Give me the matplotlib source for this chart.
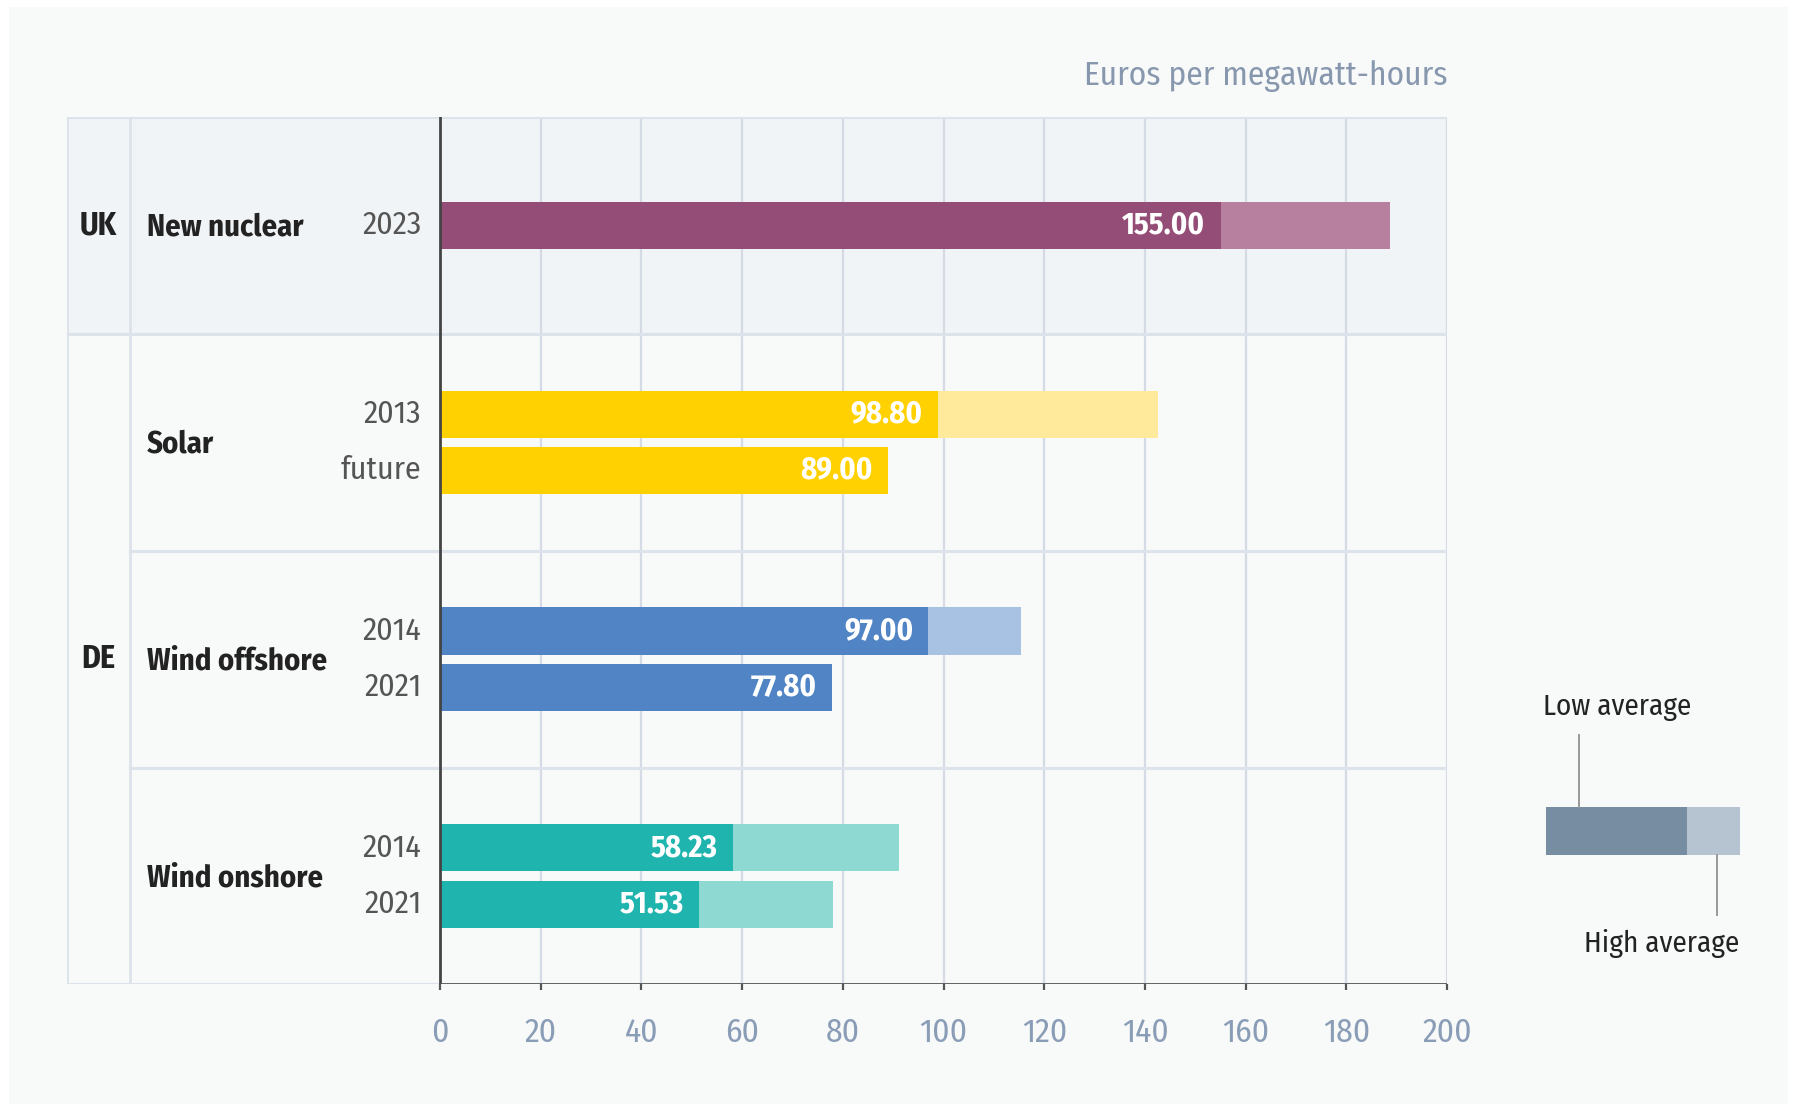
import matplotlib
matplotlib.use("Agg")
import matplotlib.pyplot as plt
from matplotlib import font_manager as fm
from matplotlib.patches import Rectangle

# ---------------- data ----------------
countries = ["UK", "DE"]
country_span = [(0, 1), (1, 4)]          # technology rows belonging to each country
technologies = ["New nuclear", "Solar", "Wind offshore", "Wind onshore"]
years = [["2023"], ["2013", "future"], ["2014", "2021"], ["2014", "2021"]]
low_avg = [[155.00], [98.80, 89.00], [97.00, 77.80], [58.23, 51.53]]
high_avg = [[188.6], [142.5, None], [115.4, None], [91.2, 78.0]]
dark_colors = ["#944d76", "#ffd100", "#5084c5", "#20b4ae"]
light_colors = ["#b8809f", "#feea9a", "#a8c2e3", "#8fd9d3"]
xticks = list(range(0, 201, 20))
unit_label = "Euros per megawatt-hours"
legend_labels = ["Low average", "High average"]
legend_colors = ["#778da2", "#b6c3d0"]

# ---------------- fonts ----------------
avail = {f.name for f in fm.fontManager.ttflist}
FONT = "DejaVu Sans"
for cand in ["Fira Sans Condensed", "PT Sans Narrow", "Barlow Semi Condensed",
             "Asap Condensed", "Archivo Narrow"]:
    if cand in avail:
        FONT = cand
        break
plt.rcParams["font.family"] = [FONT, "DejaVu Sans"]

W, H = 1801, 1107
fig = plt.figure(figsize=(W / 100, H / 100), dpi=100)
fig.patch.set_facecolor("white")

# background panel
bg = fig.add_axes([0, 0, 1, 1])
bg.set_xlim(0, W)
bg.set_ylim(H, 0)
bg.axis("off")
bg.add_patch(Rectangle((9, 7), 1779, 1097, facecolor="#f8f9f9", edgecolor="none"))

# main axes (pixel layout)
x_tab, x_sep, x0, x200 = 66.6, 129.8, 439.9, 1447.2
y_top, y_bot = 117.2, 984.4
ax = fig.add_axes([x_tab / W, 1 - y_bot / H, (x200 - x_tab) / W, (y_bot - y_top) / H])
ax.patch.set_alpha(0)
scale = 200 / (x200 - x0)
xmin = -(x0 - x_tab) * scale
xsep = -(x0 - x_sep) * scale
ax.set_xlim(xmin, 200)
n = len(technologies)
ax.set_ylim(n, 0)
for s in ax.spines.values():
    s.set_visible(False)

grid_c = "#d4dbe4"
band_c = "#dde3ea"
# UK band shading
a, b = country_span[0]
ax.add_patch(Rectangle((xmin, a), 200 - xmin, b - a, facecolor="#f1f4f6",
                       edgecolor="none", zorder=0))

# vertical grid
for t in xticks[1:]:
    ax.plot([t, t], [0, n], color=grid_c, lw=1.6, zorder=1)
ax.plot([xmin, xmin], [0, n], color=band_c, lw=2, zorder=1)
ax.plot([xsep, xsep], [0, n], color=band_c, lw=2, zorder=1)
# horizontal separators
ax.plot([xmin, 200], [0, 0], color=band_c, lw=2.2, zorder=1)
ax.plot([xmin, 0], [n, n], color=band_c, lw=2.2, zorder=1)
for i in range(1, n):
    starts_country = any(a == i for a, b in country_span)
    ax.plot([xmin if starts_country else xsep, 200], [i, i], color=band_c, lw=2.2, zorder=1)
# axis lines
ax.plot([0, 0], [0, n], color="#444444", lw=2, zorder=4)
ax.plot([0, 200], [n, n], color="#555555", lw=2, zorder=4)

# bars
bar_h = 0.217
off = 0.13
for i, tech in enumerate(technologies):
    k = len(low_avg[i])
    centers = [i + 0.5] if k == 1 else [i + 0.5 - off, i + 0.5 + off]
    for j, yc in enumerate(centers):
        lo = low_avg[i][j]
        hi = high_avg[i][j]
        if hi is not None:
            ax.barh(yc, hi, height=bar_h, color=light_colors[i], zorder=2)
        ax.barh(yc, lo, height=bar_h, color=dark_colors[i], zorder=3)
        ax.annotate(f"{lo:.2f}", (lo, yc), xytext=(-11, 0), textcoords="offset points",
                    ha="right", va="center", color="white", fontsize=22,
                    fontweight="bold", zorder=5)
        ax.text(-3.65, yc, years[i][j], ha="right", va="center", fontsize=23,
                color="#555555")
    ax.text(-58.1, i + 0.5 + 0.01, tech, ha="left", va="center", fontsize=22,
            fontweight="bold", color="#222222")

for ci, (a, b) in enumerate(country_span):
    ax.text((xmin + xsep) / 2, (a + b) / 2, countries[ci], ha="center", va="center",
            fontsize=23, fontweight="bold", color="#222222")

# ticks
ax.set_yticks([])
ax.set_xticks(xticks)
ax.set_xticklabels([str(t) for t in xticks])
ax.tick_params(axis="x", direction="out", length=4, width=1.6, color="#555555",
               pad=19, labelsize=24, labelcolor="#8a9db6")

# unit label
bg.text(x200, 76, unit_label, ha="right", va="center", fontsize=24, color="#8798ae")

# legend (pixel coords)
ly0, ly1 = 807, 855
bg.add_patch(Rectangle((1546, ly0), 1687 - 1546, ly1 - ly0, facecolor=legend_colors[0],
                       edgecolor="none"))
bg.add_patch(Rectangle((1687, ly0), 1740 - 1687, ly1 - ly0, facecolor=legend_colors[1],
                       edgecolor="none"))
bg.plot([1579, 1579], [735, ly0], color="#999999", lw=1.4)
bg.plot([1717, 1717], [ly1, 915], color="#999999", lw=1.4)
bg.text(1543, 707, legend_labels[0], ha="left", va="center", fontsize=21, color="#222222")
bg.text(1739, 944, legend_labels[1], ha="right", va="center", fontsize=21, color="#222222")

fig.savefig("out.png", dpi=100, facecolor="white")
